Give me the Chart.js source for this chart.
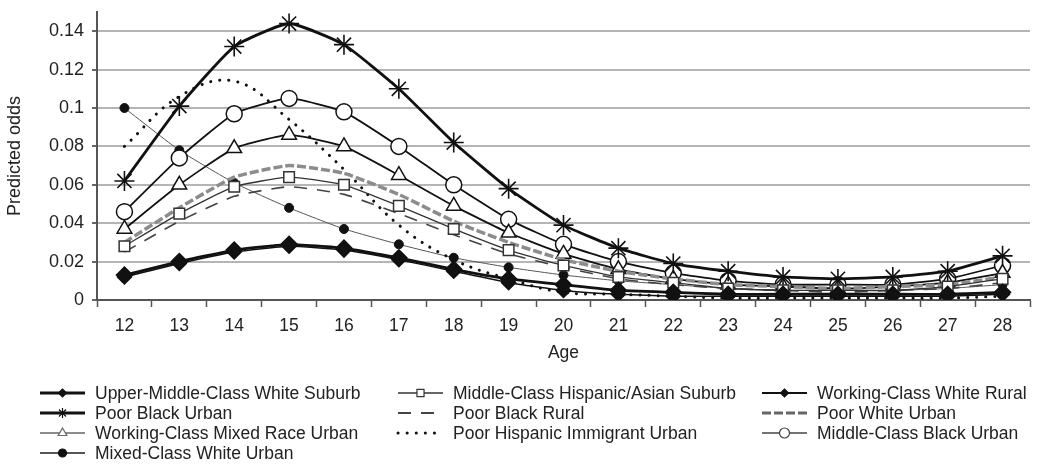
<!DOCTYPE html>
<html>
<head>
<meta charset="utf-8">
<script src="https://cdn.jsdelivr.net/npm/chart.js@4/dist/chart.umd.min.js"></script>
<style>
  html, body { margin: 0; background: #fff; }
  #wrap { width: 1050px; height: 472px; }
</style>
</head>
<body>
<div id="wrap"><canvas id="oddsChart"></canvas></div>
<script>
// eta (asse x)
const ages = ['12', '13', '14', '15', '16', '17', '18', '19', '20', '21', '22', '23', '24', '25', '26', '27', '28'];
// tacche asse y
const yTicks = [0, 0.02, 0.04, 0.06, 0.08, 0.1, 0.12, 0.14];

// odds previste per gruppo
const upperMiddleWhiteSuburb = [0.013, 0.020, 0.026, 0.029, 0.027, 0.022, 0.016, 0.011, 0.008, 0.005, 0.004, 0.003, 0.003, 0.003, 0.003, 0.003, 0.004];
const middleHispanicAsianSuburb = [0.028, 0.045, 0.059, 0.064, 0.060, 0.049, 0.037, 0.026, 0.018, 0.012, 0.009, 0.006, 0.005, 0.005, 0.005, 0.007, 0.011];
const workingWhiteRural = [0.012, 0.019, 0.025, 0.028, 0.026, 0.021, 0.015, 0.009, 0.005, 0.003, 0.002, 0.002, 0.002, 0.002, 0.002, 0.002, 0.003];
const poorBlackUrban = [0.062, 0.101, 0.132, 0.144, 0.133, 0.110, 0.082, 0.058, 0.039, 0.027, 0.019, 0.015, 0.012, 0.011, 0.012, 0.015, 0.023];
const poorBlackRural = [0.025, 0.041, 0.054, 0.059, 0.055, 0.045, 0.034, 0.024, 0.017, 0.011, 0.008, 0.006, 0.005, 0.004, 0.005, 0.006, 0.009];
const poorWhiteUrban = [0.030, 0.048, 0.064, 0.070, 0.066, 0.055, 0.041, 0.030, 0.021, 0.015, 0.011, 0.008, 0.007, 0.006, 0.007, 0.008, 0.012];
const workingMixedRaceUrban = [0.037, 0.060, 0.079, 0.086, 0.080, 0.065, 0.049, 0.035, 0.024, 0.016, 0.011, 0.008, 0.007, 0.006, 0.007, 0.009, 0.014];
const poorHispanicImmigrantUrban = [0.080, 0.106, 0.114, 0.094, 0.068, 0.039, 0.021, 0.011, 0.004, 0.003, 0.002, 0.001, 0.001, 0.001, 0.001, 0.001, 0.002];
const middleBlackUrban = [0.046, 0.074, 0.097, 0.105, 0.098, 0.080, 0.060, 0.042, 0.029, 0.020, 0.014, 0.010, 0.008, 0.008, 0.008, 0.011, 0.018];
const mixedWhiteUrban = [0.100, 0.078, 0.061, 0.048, 0.037, 0.029, 0.022, 0.017, 0.013, 0.010, 0.008, 0.006, 0.005, 0.005, 0.005, 0.006, 0.008];

const FONT = "'Liberation Sans', Arial, sans-serif";
const TEXT = '#222';

// stile comune di una serie
const serie = (label, data, o) => Object.assign({
    label: label,
    data: data,
    borderColor: '#111',
    borderWidth: 2,
    borderDash: [],
    pointStyle: false,
    pointRadius: 0,
    pointBackgroundColor: '#fff',
    pointBorderColor: '#111',
    pointBorderWidth: 1.5,
    tension: 0.15,
    fill: false,
    legendWidth: 2,
    legendMarker: 4.5
}, o);

// ordine = ordine della legenda (3 colonne)
const datasets = [
    serie('Upper-Middle-Class White Suburb', upperMiddleWhiteSuburb, {
        borderWidth: 2.8, pointStyle: 'rectRot', pointRadius: 8, pointBackgroundColor: '#111', tension: 0.1, legendWidth: 3, legendMarker: 4
    }),
    serie('Middle-Class Hispanic/Asian Suburb', middleHispanicAsianSuburb, {
        borderColor: '#333', borderWidth: 1.3, pointStyle: 'rect', pointRadius: 7.5, pointBorderColor: '#333', legendWidth: 1.5, legendMarker: 5
    }),
    serie('Working-Class White Rural', workingWhiteRural, {
        borderWidth: 1.5, pointStyle: 'rectRot', pointRadius: 7, pointBackgroundColor: '#111', legendWidth: 2, legendMarker: 4
    }),
    serie('Poor Black Urban', poorBlackUrban, {
        borderWidth: 2.8, pointStyle: 'star', pointRadius: 10, pointBorderWidth: 1.6, legendWidth: 3, legendMarker: 5
    }),
    serie('Poor Black Rural', poorBlackRural, {
        borderColor: '#444', borderWidth: 1.6, borderDash: [13, 10], legendWidth: 2
    }),
    serie('Poor White Urban', poorWhiteUrban, {
        borderColor: '#8c8c8c', borderWidth: 3.5, borderDash: [9, 3], legendWidth: 3, legendColor: '#666'
    }),
    serie('Working-Class Mixed Race Urban', workingMixedRaceUrban, {
        borderWidth: 1.8, pointStyle: 'triangle', pointRadius: 8.5, legendWidth: 1.5, legendColor: '#666', legendMarker: 5
    }),
    serie('Poor Hispanic Immigrant Urban', poorHispanicImmigrantUrban, {
        borderWidth: 3, borderDash: [0.1, 9], borderCapStyle: 'round', tension: 0.4, legendWidth: 3
    }),
    serie('Middle-Class Black Urban', middleBlackUrban, {
        borderWidth: 1.8, pointStyle: 'circle', pointRadius: 8, legendWidth: 1.5, legendColor: '#444', legendMarker: 5
    }),
    serie('Mixed-Class White Urban', mixedWhiteUrban, {
        borderColor: '#555', borderWidth: 1, pointStyle: 'circle', pointRadius: 4.5, pointBackgroundColor: '#111', pointBorderWidth: 1, legendWidth: 2, legendMarker: 4
    })
];

// legenda disegnata a griglia sotto il grafico
const gridLegend = {
    id: 'gridLegend',
    afterDraw(chart) {
        const ctx = chart.ctx;
        const colX = [40, 398, 762];
        const rowY = [393, 413, 433, 453];
        chart.data.datasets.forEach((ds, i) => {
            const x = colX[i % 3];
            const y = rowY[Math.floor(i / 3)];
            ctx.save();
            // linea campione
            ctx.strokeStyle = ds.legendColor || ds.borderColor;
            ctx.lineWidth = ds.legendWidth;
            ctx.setLineDash(ds.borderDash.length ? ds.borderDash : []);
            ctx.lineCap = ds.borderCapStyle || 'butt';
            ctx.beginPath();
            ctx.moveTo(x, y);
            ctx.lineTo(x + 45, y);
            ctx.stroke();
            ctx.setLineDash([]);
            // marcatore
            if (ds.pointStyle) {
                ctx.fillStyle = ds.pointBackgroundColor;
                ctx.strokeStyle = ds.legendColor || ds.pointBorderColor;
                ctx.lineWidth = 1.2;
                Chart.helpers.drawPoint(ctx, { pointStyle: ds.pointStyle, radius: ds.legendMarker, borderWidth: 1.2, rotation: 0 }, x + 22.5, y);
            }
            // etichetta
            ctx.fillStyle = TEXT;
            ctx.font = '17.5px ' + FONT;
            ctx.textBaseline = 'middle';
            ctx.fillText(ds.label, x + 55, y + 1);
            ctx.restore();
        });
    }
};

new Chart(document.getElementById('oddsChart'), {
    type: 'line',
    data: { labels: ages, datasets: datasets },
    plugins: [gridLegend],
    options: {
        responsive: true,
        maintainAspectRatio: false,
        animation: false,
        layout: { padding: { top: 12, right: 20, bottom: 102, left: 0 } },
        plugins: {
            legend: { display: false },
            tooltip: { enabled: false }
        },
        scales: {
            x: {
                offset: true,
                grid: { display: true, drawOnChartArea: false, drawTicks: true, tickLength: 7, tickColor: '#555', tickWidth: 1.5, offset: true },
                border: { color: '#555', width: 2 },
                ticks: { font: { family: FONT, size: 17.5 }, color: TEXT, padding: 9, maxRotation: 0, autoSkip: false },
                title: { display: true, text: 'Age', font: { family: FONT, size: 17.5 }, color: TEXT, padding: { top: 4, bottom: 6 } },
                afterFit: s => { s.height = 70; }
            },
            y: {
                min: 0,
                max: 0.15,
                afterBuildTicks: s => { s.ticks = yTicks.map(v => ({ value: v })); },
                ticks: { font: { family: FONT, size: 18 }, color: TEXT, padding: 8, callback: v => String(+v.toFixed(2)) },
                grid: { color: '#b5b5b5', lineWidth: 2, tickLength: 5, tickColor: '#666' },
                border: { color: '#555', width: 2 },
                title: { display: true, text: 'Predicted odds', font: { family: FONT, size: 18 }, color: TEXT, padding: { top: 4, bottom: 4 } },
                afterFit: s => { s.width = 97; s.paddingTop = 0; s.paddingBottom = 0; }
            }
        }
    }
});
</script>
</body>
</html>
